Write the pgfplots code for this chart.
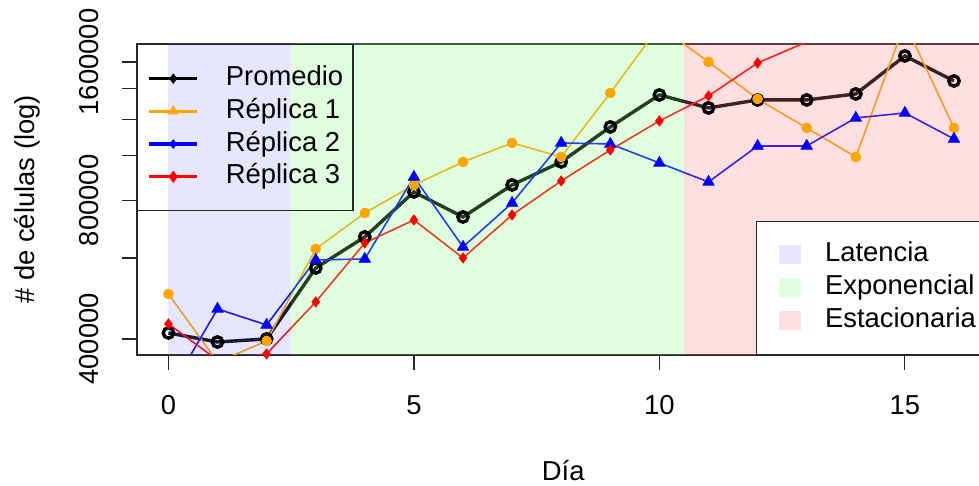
\documentclass[border=0pt]{standalone}
\usepackage{pgfplots}
\pgfplotsset{compat=1.18}
\usepackage{pgfplotstable}
\usepackage{fontspec}
\setmainfont{Liberation Sans}
\definecolor{rorange}{RGB}{255,165,0}
\definecolor{latc}{RGB}{230,230,255}
\definecolor{expc}{RGB}{223,255,223}
\definecolor{estc}{RGB}{255,223,223}
\definecolor{latov}{RGB}{128,128,255}
\definecolor{expov}{RGB}{128,255,128}
\definecolor{estov}{RGB}{255,128,128}

\pgfplotstableread{
d prom r1 r2 r3
0 412200 501000 305000 431200
1 394000 356500 464800 360100
2 400000 396000 429000 371100
3 570600 627600 594000 481400
4 666500 751500 596900 646800
5 834800 864500 899800 725600
6 736600 970100 634000 599900
7 864500 1066800 790000 744000
8 970100 994600 1066800 882000
9 1155800 1370000 1061400 1030000
10 1356400 1915800 965200 1191000
11 1271000 1600000 877600 1349600
12 1323000 1329700 1050800 1592000
13 1323000 1150000 1050800 1768600
14 1363200 994600 1209000 1886000
15 1648800 1944900 1239600 1768600
16 1454800 1150000 1088300 2126000
}\datatab

\begin{document}
\begin{tikzpicture}
\begin{axis}[
  at={(68.5pt,65.5pt)}, anchor=south west,
  scale only axis, width=424.2pt, height=155.5pt,
  xmin=-0.64, xmax=16.64,
  ymode=log, ymin=369200, ymax=1750800,
  font=\fontsize{13.7}{16.5}\selectfont,
  xtick={0,5,10,15}, xticklabels={0,5,10,15},
  ytick={400000,600000,800000,1000000,1200000,1400000,1600000},
  yticklabels={400000,,800000,,,,1600000},
  yminorticks=false, xminorticks=false,
  tick align=outside, major tick length=7.5pt,
  xtick pos=lower, ytick pos=left,
  tick style={black!85, line width=0.6pt},
  axis line style={black!85, line width=0.7pt},
  /pgf/number format/assume math mode=true,
  tick label style={font=\fontsize{13.7}{16.5}\selectfont},
  xticklabel style={anchor=base, inner sep=0pt},
  xticklabel shift=22.5pt,
  yticklabel style={rotate=90, anchor=base, inner sep=0pt},
  yticklabel shift=12pt,
  every axis x label/.style={at={(axis description cs:0.5024,-0.4051)}, anchor=base},
  every axis y label/.style={at={(axis description cs:-0.1214,0.5)}, rotate=90, anchor=base},
  xlabel={Día},
  ylabel={\# de células (log)},
  legend image code/.code={\draw[mark repeat=2,mark phase=2,#1] plot coordinates {(0pt,0pt)(12pt,0pt)(24pt,0pt)};},
  legend cell align=left,
  legend style={at={(axis description cs:0,1)}, anchor=north west,
    draw=black!85, line width=0.7pt, fill=none,
    inner xsep=5pt, inner ysep=10.5pt, row sep=3.35pt,
    font=\fontsize{13.7}{16.5}\selectfont,
    nodes={inner sep=0pt, text height=10pt, text depth=3pt},
    /tikz/every odd column/.append style={column sep=13.5pt}},
]
\addplot[black, line width=1.7pt, mark=o, mark size=2.6pt, forget plot] table[x=d,y=prom]{\datatab};
\addplot[rorange, line width=0.8pt, mark=*, mark size=2.5pt, mark options={line width=0.3pt}, forget plot] table[x=d,y=r1]{\datatab};
\addplot[blue, line width=0.8pt, mark=triangle*, mark size=3.3pt, mark options={line width=0.3pt}, forget plot] table[x=d,y=r2]{\datatab};
\addplot[red, line width=0.8pt, mark=diamond*, mark size=2.6pt, mark options={line width=0.3pt}, forget plot] table[x=d,y=r3]{\datatab};

\addplot[draw=none, fill=latov, fill opacity=0.2, forget plot] coordinates {(0,300000) (2.5,300000) (2.5,3000000) (0,3000000)} -- cycle;
\addplot[draw=none, fill=expov, fill opacity=0.25, forget plot] coordinates {(2.5,300000) (10.5,300000) (10.5,3000000) (2.5,3000000)} -- cycle;
\addplot[draw=none, fill=estov, fill opacity=0.25, forget plot] coordinates {(10.5,300000) (17.5,300000) (17.5,3000000) (10.5,3000000)} -- cycle;

\addlegendimage{black, line width=1.6pt, mark=diamond*, mark size=2.4pt, mark options={line width=0.3pt}}
\addlegendentry{Promedio}
\addlegendimage{rorange, line width=1.6pt, mark=triangle*, mark size=2.8pt, mark options={line width=0.3pt}}
\addlegendentry{Réplica 1}
\addlegendimage{blue, line width=1.6pt, mark=diamond*, mark size=2.2pt, mark options={line width=0.3pt}}
\addlegendentry{Réplica 2}
\addlegendimage{red, line width=1.6pt, mark=diamond*, mark size=2.8pt, mark options={line width=0.3pt}}
\addlegendentry{Réplica 3}
\end{axis}
\begin{axis}[
  at={(68.5pt,65.5pt)}, anchor=south west,
  scale only axis, width=424.2pt, height=155.5pt,
  xmin=-0.64, xmax=16.64, ymin=0, ymax=1,
  hide axis,
  legend image code/.code={\fill[#1] (0pt,-4.5pt) rectangle (10.5pt,4.5pt);},
  legend cell align=left,
  legend style={at={(axis description cs:0.7296,0)}, anchor=south west,
    draw=black!85, line width=0.7pt, fill=white,
    inner xsep=11pt, inner ysep=10.25pt, row sep=3.5pt,
    font=\fontsize{13.7}{16.5}\selectfont,
    nodes={inner sep=0pt, text height=10pt, text depth=3pt},
    /tikz/every odd column/.append style={column sep=12pt}},
]
\addlegendimage{latc}
\addlegendentry{Latencia}
\addlegendimage{expc}
\addlegendentry{Exponencial}
\addlegendimage{estc}
\addlegendentry{Estacionaria}
\end{axis}
\pgfresetboundingbox
\path[use as bounding box] (0,0) rectangle (489.5pt,243pt);
\end{tikzpicture}
\end{document}
